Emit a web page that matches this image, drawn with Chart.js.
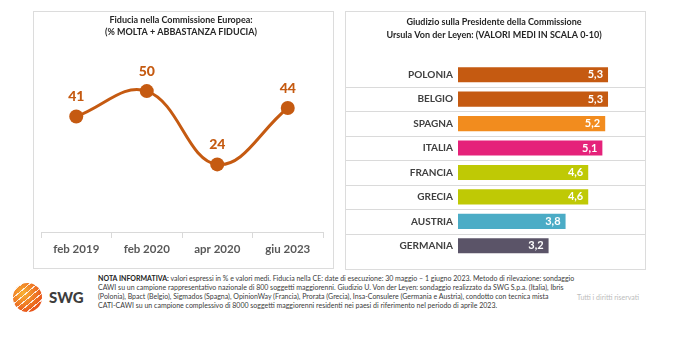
<!DOCTYPE html>
<html>
<head>
<meta charset="utf-8">
<script src="https://cdn.jsdelivr.net/npm/chart.js@4/dist/chart.umd.min.js"></script>
<style>
  body { margin: 0; width: 680px; height: 352px; background: #fff; position: relative; overflow: hidden; font-family: Lato, sans-serif; }
  .box { position: absolute; border: 1px solid #dcdcdc; box-sizing: border-box; }
  #boxL { left: 33px; top: 11px; width: 301px; height: 258px; }
  #boxR { left: 345px; top: 11px; width: 301px; height: 259px; }
  .box canvas { position: absolute; left: 0; top: 0; }
  #logo { position: absolute; left: 13px; top: 283px; width: 29px; height: 29px; border-radius: 50%;
    background: repeating-linear-gradient(-40deg, rgba(255,255,255,0) 0 4px, rgba(255,255,255,0.85) 4px 5px),
                radial-gradient(circle at 35% 35%, #f8b133, #e8541b 75%); }
  #swg { position: absolute; left: 49px; top: 288px; font-weight: 900; font-size: 15px; color: #3d3d3d; }
  #nota { position: absolute; left: 98px; top: 273.5px; font-size: 7px; line-height: 9px; color: #3a3a3a; white-space: nowrap; }
  #nota b { color: #222; }
  #diritti { position: absolute; left: 577px; top: 292.5px; font-size: 7px; color: #bdbdbd; }
</style>
</head>
<body>
<div class="box" id="boxL"><canvas id="fiduciaChart" width="299" height="256"></canvas></div>
<div class="box" id="boxR"><canvas id="giudizioChart" width="299" height="257"></canvas></div>
<div id="logo"></div>
<div id="swg">SWG</div>
<div id="nota"><b>NOTA INFORMATIVA:</b> valori espressi in % e valori medi. Fiducia nella CE: date di esecuzione: 30 maggio – 1 giugno 2023. Metodo di rilevazione: sondaggio<br>CAWI su un campione rappresentativo nazionale di 800 soggetti maggiorenni. Giudizio U. Von der Leyen: sondaggio realizzato da SWG S.p.a. (Italia), Ibris<br>(Polonia), Bpact (Belgio), Sigmados (Spagna), OpinionWay (Francia), Prorata (Grecia), Insa-Consulere (Germania e Austria), condotto con tecnica mista<br>CATI-CAWI su un campione complessivo di 8000 soggetti maggiorenni residenti nei paesi di riferimento nel periodo di aprile 2023.</div>
<div id="diritti">Tutti i diritti riservati</div>
<script>
const dateLabels = ['feb 2019', 'feb 2020', 'apr 2020', 'giu 2023']
const fiducia = [41, 50, 24, 44]

const paesi = ['POLONIA', 'BELGIO', 'SPAGNA', 'ITALIA', 'FRANCIA', 'GRECIA', 'AUSTRIA', 'GERMANIA']
const giudizio = [5.3, 5.3, 5.2, 5.1, 4.6, 4.6, 3.8, 3.2]
const coloriPaesi = ['#C55A11', '#C55A11', '#F28C1E', '#E5227A', '#BFC905', '#BFC905', '#4BACC6', '#5B5468']

const ARANCIO = '#C55A11'

// numeri sopra i punti della linea
const pointLabels = {
  id: 'pointLabels',
  afterDatasetsDraw(chart) {
    const ctx = chart.ctx
    const ds = chart.data.datasets[0]
    ctx.save()
    ctx.font = '900 14px Lato'
    ctx.fillStyle = ARANCIO
    ctx.textAlign = 'center'
    ctx.textBaseline = 'middle'
    chart.getDatasetMeta(0).data.forEach((pt, i) => {
      ctx.fillText(ds.data[i], pt.x, pt.y - 20)
    })
    ctx.restore()
  }
}

// righe orizzontali tra i paesi, su tutta la larghezza del riquadro
const righe = {
  id: 'righe',
  beforeDatasetsDraw(chart) {
    const y = chart.scales.y
    const ctx = chart.ctx
    ctx.save()
    ctx.strokeStyle = '#dadada'
    ctx.lineWidth = 1
    for (let i = 0; i < paesi.length - 1; i++) {
      const py = Math.round((y.getPixelForValue(i) + y.getPixelForValue(i + 1)) / 2) + 0.5
      ctx.beginPath()
      ctx.moveTo(0, py)
      ctx.lineTo(chart.width, py)
      ctx.stroke()
    }
    ctx.restore()
  }
}

// valori dentro le barre
const barLabels = {
  id: 'barLabels',
  afterDatasetsDraw(chart) {
    const ctx = chart.ctx
    const ds = chart.data.datasets[0]
    ctx.save()
    ctx.font = 'bold 11px Lato'
    ctx.fillStyle = '#fff'
    ctx.textAlign = 'right'
    ctx.textBaseline = 'middle'
    chart.getDatasetMeta(0).data.forEach((bar, i) => {
      ctx.fillText(String(ds.data[i]).replace('.', ','), bar.x - 5, bar.y)
    })
    ctx.restore()
  }
}

new Chart(document.getElementById('fiduciaChart'), {
  type: 'line',
  data: {
    labels: dateLabels,
    datasets: [{
      data: fiducia,
      borderColor: ARANCIO,
      backgroundColor: ARANCIO,
      borderWidth: 3,
      tension: 0.4,
      pointRadius: 7,
      pointBorderWidth: 0,
      pointHoverRadius: 7,
      clip: false,
    }]
  },
  options: {
    responsive: false,
    animation: false,
    layout: { padding: { left: 5, right: 10, top: 0, bottom: 0 } },
    plugins: {
      legend: { display: false },
      tooltip: { enabled: false },
      title: {
        display: true,
        text: ['Fiducia nella Commissione Europea:', '(% MOLTA + ABBASTANZA FIDUCIA)'],
        color: '#262626',
        font: { family: 'Lato', size: 9, weight: 'bold', lineHeight: 1.33 },
        padding: { top: 2, bottom: 25 },
      },
    },
    scales: {
      x: {
        offset: true,
        afterFit: (s) => { s.height = 36 },
        border: { color: '#d9d9d9' },
        grid: { offset: true, drawOnChartArea: false, tickLength: 6, color: '#d9d9d9' },
        ticks: { color: '#595959', padding: 4, font: { family: 'Lato', size: 11.5, weight: 'bold' } },
      },
      y: { display: false, min: 0, max: 60 },
    },
  },
  plugins: [pointLabels],
})

new Chart(document.getElementById('giudizioChart'), {
  type: 'bar',
  data: {
    labels: paesi,
    datasets: [{
      data: giudizio,
      backgroundColor: coloriPaesi,
      barPercentage: 0.62,
      categoryPercentage: 1,
    }]
  },
  options: {
    indexAxis: 'y',
    responsive: false,
    animation: false,
    layout: { padding: { left: 0, right: 3, top: 0, bottom: 8.6 } },
    plugins: {
      legend: { display: false },
      tooltip: { enabled: false },
      title: {
        display: true,
        text: ['Giudizio sulla Presidente della Commissione', 'Ursula Von der Leyen: (VALORI MEDI IN SCALA 0-10)'],
        color: '#262626',
        font: { family: 'Lato', size: 9, weight: 'bold', lineHeight: 1.444 },
        padding: { top: 3.5, bottom: 21 },
      },
    },
    scales: {
      x: { display: false, min: 0, max: 6.5 },
      y: {
        afterFit: (s) => { s.width = 112 },
        border: { display: false },
        grid: { display: false, drawTicks: false },
        ticks: { color: '#404040', padding: 5, font: { family: 'Lato', size: 10, weight: 'bold' } },
      },
    },
  },
  plugins: [righe, barLabels],
})
</script>
</body>
</html>
